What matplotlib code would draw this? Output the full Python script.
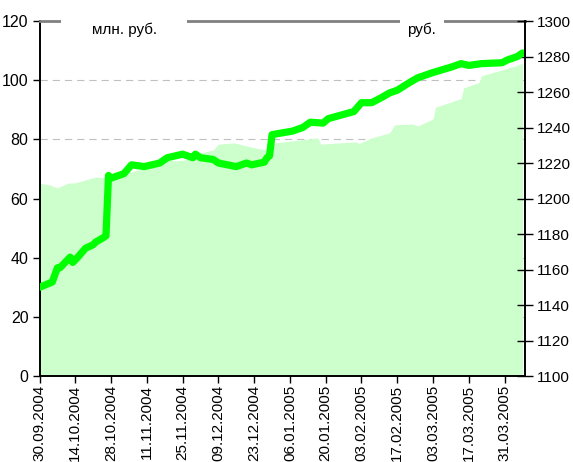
import matplotlib
matplotlib.use('Agg')
import matplotlib.pyplot as plt
import pandas as pd

plt.rcParams['font.family'] = ['Liberation Sans', 'DejaVu Sans']

# area: млн. руб. (left axis)
area_dates = ['30.09.2004', '04.10.2004', '07.10.2004', '11.10.2004', '14.10.2004',
              '18.10.2004', '22.10.2004', '25.10.2004', '01.11.2004', '09.11.2004',
              '19.11.2004', '23.11.2004', '29.11.2004', '02.12.2004', '07.12.2004',
              '09.12.2004', '15.12.2004', '20.12.2004', '24.12.2004', '28.12.2004',
              '31.12.2004', '10.01.2005', '17.01.2005', '18.01.2005', '25.01.2005',
              '01.02.2005', '02.02.2005', '07.02.2005', '14.02.2005', '16.02.2005',
              '23.02.2005', '25.02.2005', '02.03.2005', '03.03.2005', '04.03.2005',
              '09.03.2005', '14.03.2005', '15.03.2005', '21.03.2005', '22.03.2005',
              '28.03.2005', '01.04.2005', '05.04.2005', '07.04.2005']
area_values = [65.2, 64.6, 63.6, 65.2, 65.3,
               66.3, 67.3, 67.0, 68.0, 70.0,
               73.0, 72.7, 73.5, 75.4, 76.4,
               78.4, 78.8, 77.8, 77.0, 76.4,
               78.8, 79.8, 80.5, 78.4, 78.8,
               79.1, 78.6, 80.5, 82.2, 84.9,
               85.2, 84.5, 86.5, 87.0, 90.9,
               92.3, 93.8, 97.4, 99.2, 101.5,
               103.0, 104.0, 105.0, 105.8]

# line: руб. (right axis)
line_dates = ['30.09.2004', '05.10.2004', '07.10.2004', '08.10.2004', '12.10.2004',
              '13.10.2004', '15.10.2004', '18.10.2004', '21.10.2004', '22.10.2004',
              '25.10.2004', '26.10.2004', '27.10.2004', '28.10.2004', '02.11.2004',
              '05.11.2004', '10.11.2004', '16.11.2004', '19.11.2004', '22.11.2004',
              '25.11.2004', '29.11.2004', '30.11.2004', '02.12.2004', '07.12.2004',
              '09.12.2004', '16.12.2004', '20.12.2004', '22.12.2004', '27.12.2004',
              '28.12.2004', '29.12.2004', '30.12.2004', '07.01.2005', '11.01.2005',
              '14.01.2005', '19.01.2005', '21.01.2005', '31.01.2005', '03.02.2005',
              '07.02.2005', '11.02.2005', '14.02.2005', '17.02.2005', '22.02.2005',
              '25.02.2005', '03.03.2005', '10.03.2005', '14.03.2005', '17.03.2005',
              '22.03.2005', '30.03.2005', '01.04.2005', '05.04.2005', '07.04.2005']
line_values = [1150, 1153, 1161, 1161, 1167,
               1164, 1167, 1172, 1174, 1175.5,
               1178, 1179, 1213, 1211.5, 1214,
               1219, 1218, 1220, 1223, 1224,
               1225, 1223, 1225, 1223, 1222,
               1220, 1218, 1220, 1219, 1220.5,
               1223, 1224, 1236, 1238, 1240,
               1243, 1242.5, 1245, 1249, 1254,
               1254, 1257, 1259.5, 1261, 1265.5,
               1268, 1271, 1274, 1276, 1275,
               1276, 1276.5, 1278, 1280, 1282]

tick_labels = ['30.09.2004', '14.10.2004', '28.10.2004', '11.11.2004', '25.11.2004',
               '09.12.2004', '23.12.2004', '06.01.2005', '20.01.2005', '03.02.2005',
               '17.02.2005', '03.03.2005', '17.03.2005', '31.03.2005']

left_ticks = [0, 20, 40, 60, 80, 100, 120]
right_ticks = [1100, 1120, 1140, 1160, 1180, 1200, 1220, 1240, 1260, 1280, 1300]

area_x = pd.to_datetime(area_dates, format='%d.%m.%Y')
line_x = pd.to_datetime(line_dates, format='%d.%m.%Y')
tick_x = pd.to_datetime(tick_labels, format='%d.%m.%Y')

fig = plt.figure(figsize=(5.73, 4.62), dpi=100)
ax = fig.add_axes([0.069, 0.186, 0.8465, 0.7685])
ax2 = ax.twinx()

ax.fill_between(area_x, area_values, 0, color='#ccffcc', linewidth=0)
ax2.plot(line_x, line_values, color='#00ff00', linewidth=5.2, solid_joinstyle='round',
         solid_capstyle='round')

ax.set_axisbelow(True)
ax.yaxis.grid(True, color='#c0c0c0', linewidth=0.8, dashes=(6.5, 4.5))
ax.set_ylim(0, 120)
ax.set_yticks(left_ticks)
ax2.set_ylim(1100, 1300)
ax2.set_yticks(right_ticks)
ax.set_xlim(pd.Timestamp('2004-09-30'), pd.Timestamp('2005-04-07 20:00'))
ax.set_xticks(tick_x)
ax.set_xticklabels(tick_labels, rotation=90, va='top')

for a in (ax, ax2):
    for s in ('left', 'right', 'bottom'):
        a.spines[s].set_linewidth(1.4)
        a.spines[s].set_color('black')
ax.spines['right'].set_visible(False)
ax2.spines['left'].set_visible(False)
ax2.spines['bottom'].set_visible(False)
ax2.spines['top'].set_visible(False)
ax.spines['top'].set_color('#808080')
ax.spines['top'].set_linewidth(2)

ax.tick_params(axis='y', direction='out', length=5, width=1, labelsize=11.5, pad=3)
ax.tick_params(axis='x', direction='out', length=5, width=1, labelsize=11, pad=1.5)
ax2.tick_params(axis='y', direction='inout', length=11, width=1, labelsize=11, pad=3)

ax2.text(0.175, 0.975, 'млн. руб.', transform=ax.transAxes, ha='center', va='center',
         fontsize=11, bbox=dict(facecolor='white', edgecolor='none', boxstyle='square,pad=2.0'))
ax2.text(0.788, 0.975, 'руб.', transform=ax.transAxes, ha='center', va='center',
         fontsize=11, bbox=dict(facecolor='white', edgecolor='none', boxstyle='square,pad=0.5'))

fig.savefig('out.png', dpi=100)
